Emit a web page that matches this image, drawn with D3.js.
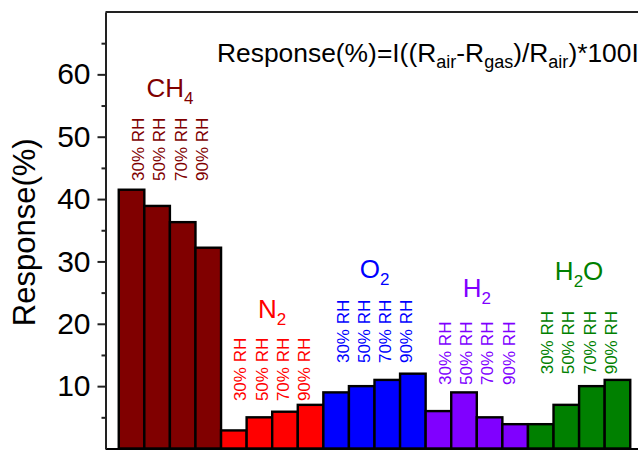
<!DOCTYPE html>
<html>
<head>
<meta charset="utf-8">
<script src="https://cdn.jsdelivr.net/npm/d3@7"></script>
<style>
  html, body { margin: 0; padding: 0; background: #fff; }
  svg { display: block; font-family: "Liberation Sans", Arial, sans-serif; }
</style>
</head>
<body>
<svg id="chart" width="638" height="450"></svg>
<script>
// ---------- data ----------
const gases = ["CH4", "N2", "O2", "H2", "H2O"];
const gasMain = [["CH", "4", ""], ["N", "2", ""], ["O", "2", ""], ["H", "2", ""], ["H", "2", "O"]];
const humidity = ["30% RH", "50% RH", "70% RH", "90% RH"];
const ch4Values = [41.5, 38.9, 36.3, 32.2];
const n2Values  = [2.9, 5.0, 5.9, 7.0];
const o2Values  = [9.0, 10.0, 11.0, 12.0];
const h2Values  = [6.0, 9.0, 5.0, 3.9];
const h2oValues = [3.9, 7.0, 10.0, 11.0];
const yTickValues = [10, 20, 30, 40, 50, 60];
const yMinorValues = [5, 15, 25, 35, 45, 55, 65];
// annotation anchors (in response units)
const gasLabelAt = [56.4, 20.9, 27.3, 24.3, 27.0];
const rhLabelAt  = [42.9, 7.6, 13.7, 10.2, 11.9];

const gasColors = ["#800000", "#ff0000", "#0000ff", "#8000ff", "#008000"];
const seriesValues = [ch4Values, n2Values, o2Values, h2Values, h2oValues];

const bars = [];
gases.forEach((g, gi) => {
  humidity.forEach((h, hi) => {
    bars.push({ key: g + "|" + h, gas: gi, value: seriesValues[gi][hi] });
  });
});

// ---------- layout ----------
const svg = d3.select("#chart");
const axisX = 105.5;
const topY = 12;
const bottomY = 448.5;

const x = d3.scaleBand().domain(bars.map(d => d.key)).range([118.75, 630.25]).padding(0);
const y = d3.scaleLinear().domain([0, 70]).range([bottomY, topY]);

// bars
svg.append("g").selectAll("rect").data(bars).join("rect")
  .attr("x", d => x(d.key))
  .attr("y", d => y(d.value))
  .attr("width", x.bandwidth())
  .attr("height", d => y(0) - y(d.value))
  .attr("fill", d => gasColors[d.gas])
  .attr("stroke", "#000")
  .attr("stroke-width", 2.4);

// frame: top line and bottom line
svg.append("line").attr("x1", axisX).attr("x2", 640).attr("y1", topY).attr("y2", topY)
  .attr("stroke", "#222").attr("stroke-width", 2);
svg.append("line").attr("x1", axisX).attr("x2", 640).attr("y1", 449).attr("y2", 449)
  .attr("stroke", "#000").attr("stroke-width", 2);

// y axis major
const yAxis = svg.append("g").attr("transform", `translate(${axisX},0)`)
  .call(d3.axisLeft(y).tickValues(yTickValues).tickSize(8).tickSizeOuter(0).tickPadding(7));
yAxis.select(".domain").attr("stroke", "#222").attr("stroke-width", 2);
yAxis.selectAll(".tick line").attr("stroke", "#222").attr("stroke-width", 2);
yAxis.selectAll(".tick text")
  .attr("font-family", "Liberation Sans, Arial, sans-serif")
  .attr("font-size", 30).attr("fill", "#000");

// y axis minor
const yMinor = svg.append("g").attr("transform", `translate(${axisX},0)`)
  .call(d3.axisLeft(y).tickValues(yMinorValues).tickSize(4).tickSizeOuter(0).tickFormat(""));
yMinor.select(".domain").remove();
yMinor.selectAll(".tick line").attr("stroke", "#222").attr("stroke-width", 2);

// y axis title
svg.append("text")
  .attr("transform", `translate(35,${(topY + bottomY) / 2 + 2}) rotate(-90)`)
  .attr("text-anchor", "middle")
  .attr("font-size", 31)
  .attr("fill", "#000")
  .text("Response(%)");

// formula
const formula = svg.append("text").attr("x", 217).attr("y", 62).attr("font-size", 26.4).attr("fill", "#000");
const fParts = [["Response(%)=I((R", false], ["air", true], ["-R", false], ["gas", true], [")/R", false], ["air", true], [")*100I", false]];
fParts.forEach(([t, sub], i) => {
  const ts = formula.append("tspan").text(t);
  if (sub) ts.attr("font-size", 18).attr("dy", 6);
  else if (i > 0) ts.attr("dy", -6);
});

// gas labels and RH labels
gases.forEach((g, gi) => {
  const first = x(g + "|" + humidity[0]);
  const last = x(g + "|" + humidity[3]) + x.bandwidth();
  const cx = (first + last) / 2;
  const t = svg.append("text")
    .attr("x", cx).attr("y", y(gasLabelAt[gi]))
    .attr("text-anchor", "middle")
    .attr("font-size", 26)
    .attr("fill", gasColors[gi]);
  const [a, sub, b] = gasMain[gi];
  t.append("tspan").text(a);
  t.append("tspan").text(sub).attr("font-size", 17).attr("dy", 7);
  if (b) t.append("tspan").text(b).attr("dy", -7);

  const spacing = 21.3;
  humidity.forEach((h, hi) => {
    const lx = cx + (hi - 1.5) * spacing;
    svg.append("text")
      .attr("transform", `translate(${lx},${y(rhLabelAt[gi])}) rotate(-90)`)
      .attr("dy", "0.35em")
      .attr("text-anchor", "start")
      .attr("font-size", 17)
      .attr("fill", gasColors[gi])
      .text(h);
  });
});
</script>
</body>
</html>
